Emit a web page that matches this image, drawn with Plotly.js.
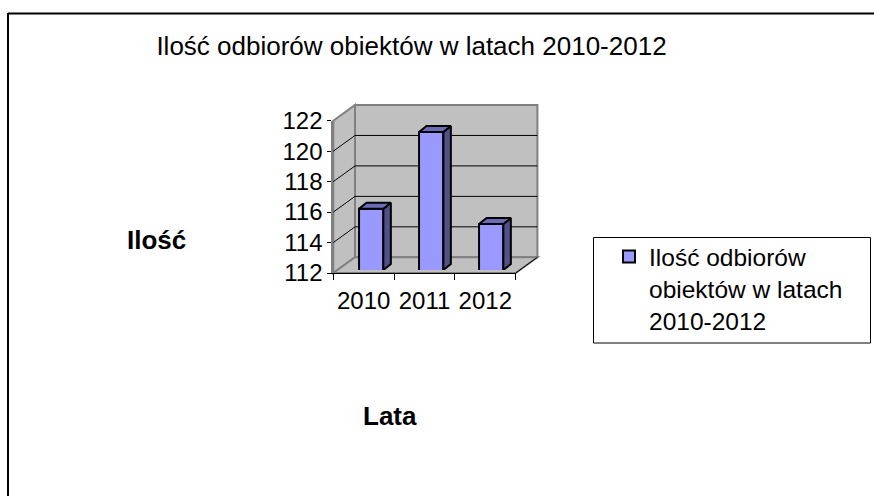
<!DOCTYPE html>
<html><head><meta charset="utf-8">
<script src="https://cdn.plot.ly/plotly-3.0.1.min.js"></script>
<style>html,body{margin:0;padding:0;background:#fff}#c{width:874px;height:496px}</style>
</head><body><div id="c"></div>
<script>
const years = ['2010','2011','2012'];
const counts = [116,121,115];
const yTicks = [112,114,116,118,120,122];
const seriesName = 'Ilość odbiorów<br>obiektów w latach<br>2010-2012';
const chartTitle = 'Ilość odbiorów obiektów w latach 2010-2012';

const W=874,H=496;
const px=v=>v/W, py=v=>1-v/H;
const font='"Liberation Sans", Arial, sans-serif';
// front plane of the 3D box
const L=333.3,R=515.7,T=120.7,B=273, DX=21.7,DY=15.7;
const yScale=v=>B-(v-yTicks[0])/(yTicks[yTicks.length-1]-yTicks[0])*(B-T);
const poly=(pts)=>'M'+pts.map(p=>px(p[0])+','+py(p[1])).join('L')+'Z';
const shapes=[];
const wall={type:'path',xref:'paper',yref:'paper',layer:'below'};
shapes.push({...wall,path:poly([[L+DX,T-DY],[R+DX,T-DY],[R+DX,B-DY],[L+DX,B-DY]]),fillcolor:'#C0C0C0',line:{color:'#808080',width:2}});
shapes.push({...wall,path:poly([[L,T],[L+DX,T-DY],[L+DX,B-DY],[L,B]]),fillcolor:'#C0C0C0',line:{color:'#808080',width:2}});
shapes.push({...wall,path:poly([[L,B],[L+DX,B-DY],[R+DX,B-DY],[R,B]]),fillcolor:'#C0C0C0',line:{color:'#808080',width:2}});
const seg=(a,b,c,w)=>({type:'line',xref:'paper',yref:'paper',layer:'below',x0:px(a[0]),y0:py(a[1]),x1:px(b[0]),y1:py(b[1]),line:{color:c,width:w}});
yTicks.slice(1,-1).forEach(v=>{const y=yScale(v);
  shapes.push(seg([L,y],[L+DX,y-DY],'#000',1));
  shapes.push(seg([L+DX,y-DY],[R+DX,y-DY],'#000',1));
});
shapes.push(seg([R,B],[R+DX,B-DY],'#000',1));
// outer chart frame
shapes.push(seg([8,13.5],[874,13.5],'#000',2));
shapes.push(seg([8,13],[8,496],'#000',2));
// legend box
shapes.push({type:'rect',xref:'paper',yref:'paper',layer:'below',x0:px(593.5),x1:px(870.5),y0:py(237.5),y1:py(343),fillcolor:'#fff',line:{color:'#000',width:1}});

const idx=years.map((_,i)=>i);
const barW=0.405, depthX=0.125, depthY=0.39;
const fillFace=(name,xs,ys,color)=>({type:'scatter',mode:'lines',xaxis:'x2',yaxis:'y2',x:xs,y:ys,fill:'toself',fillcolor:color,line:{color:'#000',width:2},showlegend:false,hoverinfo:'skip',name});
const traces=[
 {type:'bar',x:years,y:counts,xaxis:'x',yaxis:'y',marker:{color:'rgba(0,0,0,0)'},showlegend:false,hoverinfo:'skip'},
 {type:'bar',x:idx,y:counts,xaxis:'x2',yaxis:'y2',width:barW,name:seriesName,marker:{color:'#9999FF',line:{color:'#000',width:2}},cliponaxis:false}
];
idx.forEach(i=>{
  const r=i+barW/2,l=i-barW/2,v=counts[i];
  traces.push(fillFace('side',[r,r+depthX,r+depthX,r,r],[v,v+depthY,yTicks[0]+depthY,yTicks[0],v],'#50508A'));
  traces.push(fillFace('top',[l,l+depthX,r+depthX,r,l],[v,v+depthY,v+depthY,v,v],'#6B6BB8'));
});
const bL=341.2,bR=521.2,bB=270,bT=116.7;
const layout={
 width:W,height:H,margin:{l:0,r:0,t:0,b:0},paper_bgcolor:'#fff',plot_bgcolor:'rgba(0,0,0,0)',
 font:{family:font,color:'#000',size:22},
 title:{text:chartTitle,x:411.5/W,xanchor:'center',xref:'paper',y:1-46/H,yanchor:'middle',font:{family:font,size:26,color:'#000'}},
 barmode:'overlay',
 xaxis:{type:'category',domain:[px(L),px(R)],anchor:'y',tickson:'boundaries',ticks:'outside',ticklen:6,tickcolor:'#000',tickwidth:1,tickangle:0,ticklabelstandoff:6,showline:true,linecolor:'#000',linewidth:1,showgrid:false,tickfont:{size:24,family:font},categoryorder:'array',categoryarray:years},
 yaxis:{domain:[py(B),py(T)],anchor:'x',range:[112,122],tickvals:yTicks,ticks:'outside',ticklen:4,tickcolor:'#000',tickwidth:1,showline:true,linecolor:'#808080',linewidth:2,showgrid:false,zeroline:false,tickfont:{size:24,family:font}},
 xaxis2:{domain:[px(bL),px(bR)],anchor:'y2',range:[-0.5,2.5],visible:false,fixedrange:true},
 yaxis2:{domain:[py(bB),py(bT)],anchor:'x2',range:[112,122],visible:false,fixedrange:true},
 shapes,
 annotations:[
  {text:'<b>Ilość</b>',xref:'paper',yref:'paper',x:px(156),y:py(240),xanchor:'center',yanchor:'middle',showarrow:false,font:{size:26,family:font}},
  {text:'<b>Lata</b>',xref:'paper',yref:'paper',x:px(390),y:py(416),xanchor:'center',yanchor:'middle',showarrow:false,font:{size:26,family:font}}
 ],
 legend:{x:px(609),y:py(234),xanchor:'left',yanchor:'top',valign:'top',bgcolor:'rgba(0,0,0,0)',borderwidth:0,font:{size:24.5,family:font,color:'#000'}},
 hovermode:false
};
Plotly.newPlot('c',traces,layout,{displayModeBar:false,responsive:false});
</script></body></html>
